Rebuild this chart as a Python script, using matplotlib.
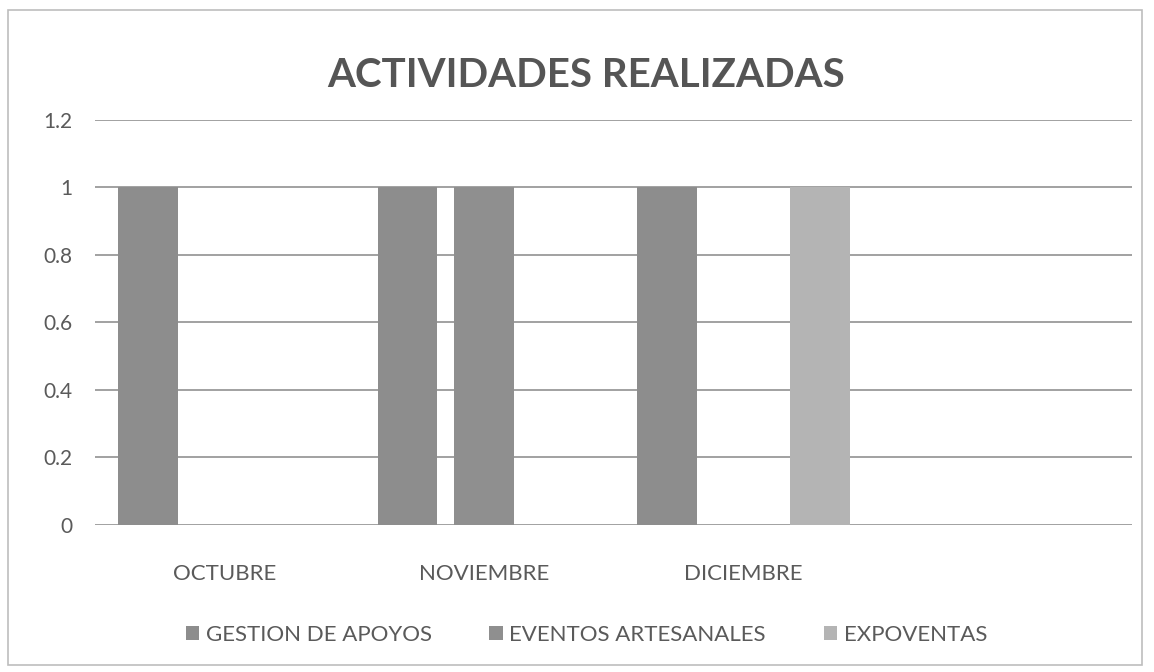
import matplotlib.pyplot as plt
import numpy as np
from matplotlib.patches import Rectangle

meses = ["OCTUBRE", "NOVIEMBRE", "DICIEMBRE", ""]
gestion_apoyos = [1, 1, 1, 0]
eventos_artesanales = [0, 1, 0, 0]
expoventas = [0, 0, 1, 0]

series = [
    ("GESTION DE APOYOS", gestion_apoyos, "#8d8d8d", -0.295),
    ("EVENTOS ARTESANALES", eventos_artesanales, "#8f8f8f", 0.0),
    ("EXPOVENTAS", expoventas, "#b4b4b4", 0.295),
]

plt.rcParams['font.family'] = ['Lato', 'DejaVu Sans']
txt = "#5a5a5a"

fig = plt.figure(figsize=(11.54, 6.72), dpi=100)
ax = fig.add_axes([0.0823, 0.2188, 0.899, 0.6027])

x = np.arange(len(meses))
for name, vals, col, off in series:
    ax.bar(x + off, vals, width=0.23, color=col, label=name, zorder=3)

ax.set_xlim(-0.5, len(meses) - 0.5)
ax.set_ylim(0, 1.2)
ax.set_yticks(np.arange(0, 1.21, 0.2))
ax.set_yticklabels(["0", "0.2", "0.4", "0.6", "0.8", "1", "1.2"])
ax.set_xticks(x)
ax.set_xticklabels(meses)
ax.yaxis.grid(True, color="#9a9a9a", linewidth=1.3)
ax.set_axisbelow(True)
for s in ax.spines.values():
    s.set_visible(False)
ax.tick_params(axis="both", length=0, colors=txt)
ax.tick_params(axis="y", labelsize=15, pad=16)
ax.tick_params(axis="x", labelsize=16, pad=28)

fig.text(0.508, 0.888, "ACTIVIDADES REALIZADAS", ha="center", va="center",
         fontsize=29, fontweight="bold", color="#555555")

leg = fig.legend(loc="center", bbox_to_anchor=(0.508, 0.055), ncol=3, frameon=False,
                 fontsize=16, handlelength=0.6, handleheight=0.6, handletextpad=0.3,
                 columnspacing=2.6)
for t in leg.get_texts():
    t.set_color(txt)

fig.patches.append(Rectangle((0.007, 0.01), 0.983, 0.975, transform=fig.transFigure,
                             fill=False, edgecolor="#bdbdbd", linewidth=1.2))

fig.savefig("out.png", dpi=100)
